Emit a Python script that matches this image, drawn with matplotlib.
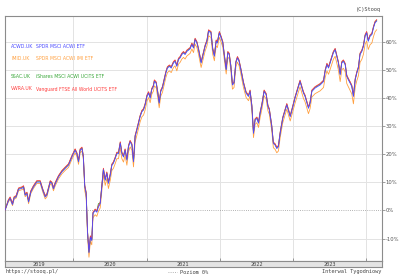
import matplotlib
matplotlib.use('Agg')
import matplotlib.pyplot as plt
import matplotlib.dates as mdates
from matplotlib.lines import Line2D
import pandas as pd

''' Data (weekly, % change from first week) '''
dates = ['2019-01-26','2019-02-12','2019-02-21','2019-03-05','2019-03-13','2019-03-23','2019-04-04','2019-04-21',
         '2019-04-29','2019-05-07','2019-05-16','2019-05-24','2019-06-04','2019-06-17','2019-07-04','2019-07-21',
         '2019-08-03','2019-08-15','2019-08-23','2019-09-09','2019-09-17','2019-09-25','2019-10-04','2019-10-20',
         '2019-11-06','2019-11-22','2019-12-09','2019-12-26',
         '2020-01-11','2020-01-20','2020-01-28','2020-02-05','2020-02-14','2020-02-21',
         '2020-02-28','2020-03-06','2020-03-13','2020-03-20','2020-03-27','2020-04-03','2020-04-09','2020-04-20',
         '2020-04-28','2020-05-06','2020-05-15',
         '2020-05-31','2020-06-09','2020-06-17','2020-06-25','2020-07-04','2020-07-12','2020-07-20','2020-07-29',
         '2020-08-06','2020-08-14','2020-08-23','2020-08-31','2020-09-08','2020-09-16','2020-09-25','2020-10-03',
         '2020-10-11','2020-10-20','2020-10-28','2020-11-05','2020-11-14','2020-11-22','2020-11-30','2020-12-09',
         '2020-12-17','2020-12-25',
         '2021-01-03','2021-01-11','2021-01-19','2021-01-27','2021-02-04','2021-02-09','2021-02-18','2021-02-26',
         '2021-03-05','2021-03-13','2021-03-21','2021-03-30','2021-04-07','2021-04-15','2021-04-25','2021-05-04',
         '2021-05-15','2021-05-23','2021-06-01','2021-06-09','2021-06-17','2021-06-26','2021-07-04','2021-07-12',
         '2021-07-21','2021-08-06','2021-08-15','2021-08-23','2021-08-31','2021-09-09','2021-09-17','2021-09-30',
         '2021-10-12','2021-10-20','2021-10-29','2021-11-06','2021-11-18','2021-11-27','2021-12-05','2021-12-14',
         '2021-12-20','2021-12-30',
         '2022-01-08','2022-01-16','2022-01-24','2022-02-02','2022-02-10','2022-02-17','2022-02-25','2022-03-05',
         '2022-03-13','2022-03-22','2022-03-30','2022-04-07','2022-04-16','2022-04-29','2022-05-12','2022-05-24',
         '2022-06-01','2022-06-10','2022-06-18','2022-06-26','2022-07-05','2022-07-13','2022-07-21','2022-07-30',
         '2022-08-10','2022-08-20','2022-08-29','2022-09-05','2022-09-17','2022-09-25','2022-10-04','2022-10-12',
         '2022-10-20','2022-10-29','2022-11-11','2022-12-01','2022-12-18','2022-12-30',
         '2023-01-11','2023-01-24','2023-02-05','2023-02-22','2023-03-02','2023-03-19','2023-03-27','2023-04-05',
         '2023-04-21','2023-05-16','2023-06-02','2023-06-10','2023-06-19','2023-06-27','2023-07-05','2023-07-21',
         '2023-07-30','2023-08-07','2023-08-15','2023-08-24','2023-09-01','2023-09-09','2023-09-18','2023-09-26',
         '2023-10-04','2023-10-13','2023-10-21','2023-10-29','2023-11-07','2023-11-15','2023-11-23','2023-12-01',
         '2023-12-10','2023-12-18','2023-12-26','2024-01-03','2024-01-11','2024-01-20','2024-01-29','2024-02-06',
         '2024-02-14','2024-02-22']

acwd = [0.0, 3.3, 4.3, 2.1, 4.4, 4.8, 7.5, 7.9, 8.3, 5.4, 6.0, 3.0, 6.5, 8.3, 10.1, 10.1, 7.1, 4.8, 5.4, 10.1,
        9.6, 7.7, 9.5, 11.9, 13.7, 14.9, 16.1, 19.0,
        21.4, 20.0, 17.3, 21.4, 22.0, 19.0,
        8.5, 6.0, -8.0, -15.0, -9.5, -10.7, -1.1, 0.0, -0.6, 1.2, 2.4,
        14.5, 10.7, 13.2, 9.6, 12.5, 16.0, 16.8, 18.5, 20.2, 20.2, 23.9, 20.2, 19.0, 21.4, 17.9, 22.6, 24.4, 23.2,
        17.3, 26.2, 28.6, 31.0, 33.3, 35.1, 35.7, 37.5,
        40.5, 41.7, 39.9, 42.9, 44.0, 45.9, 45.2, 41.7, 38.1, 42.3, 43.5, 46.4, 48.8, 50.6, 51.2, 50.6, 52.4, 53.0,
        51.2, 53.6, 54.2, 55.4, 56.0, 55.4, 56.5, 57.4, 59.0, 57.7, 60.7, 59.5, 57.1, 52.4, 56.0, 58.3, 60.1, 63.7,
        63.1, 57.1, 54.8, 60.1, 59.5, 63.1,
        61.3, 59.5, 54.8, 50.0, 56.0, 55.4, 51.2, 44.6, 45.2, 52.4, 54.2, 53.0, 50.0, 45.2, 41.7, 40.5, 42.3, 36.9,
        27.4, 32.1, 32.7, 31.0, 34.5, 37.5, 42.3, 41.1, 36.9, 35.7, 29.8, 23.8, 23.2, 22.0, 22.6, 27.4, 32.7, 37.5,
        33.3, 36.5,
        39.9, 43.0, 45.8, 41.7, 40.5, 36.3, 38.1, 42.3, 43.5, 44.6, 45.8, 49.4, 51.8, 50.6, 52.4, 56.0, 57.1, 54.8,
        52.4, 48.2, 52.4, 53.0, 51.8, 47.6, 46.4, 45.2, 44.0, 40.5, 46.4, 48.8, 50.6, 55.4, 56.5, 58.3, 61.9, 63.1,
        60.1, 61.9, 62.5, 64.9, 66.7, 67.3]

imid = [0.0, 3.0, 4.0, 1.7, 4.0, 4.4, 7.0, 7.4, 7.8, 4.9, 5.5, 2.4, 6.0, 7.8, 9.6, 9.6, 6.5, 4.1, 4.8, 9.5,
        9.0, 7.0, 8.8, 11.2, 13.0, 14.2, 15.3, 18.2,
        20.5, 19.1, 16.4, 20.5, 21.1, 18.1,
        7.0, 4.6, -9.6, -16.6, -11.0, -12.2, -2.6, -1.5, -2.1, -0.3, 0.9,
        12.7, 8.9, 11.4, 7.8, 10.7, 14.2, 15.0, 16.7, 18.4, 18.4, 22.1, 18.4, 17.2, 19.6, 16.1, 20.8, 22.6, 21.4,
        15.5, 24.4, 26.8, 29.2, 31.5, 33.3, 33.9, 35.7,
        38.9, 40.1, 38.3, 41.3, 42.4, 44.3, 43.6, 40.1, 36.5, 40.7, 41.9, 44.8, 47.2, 49.0, 49.6, 49.0, 50.8, 51.4,
        49.6, 52.0, 52.6, 53.8, 54.4, 53.8, 54.9, 55.8, 57.4, 56.1, 59.1, 57.9, 55.5, 50.8, 54.4, 56.7, 58.5, 62.1,
        61.5, 55.5, 53.2, 58.5, 57.9, 61.5,
        59.8, 58.0, 53.3, 48.5, 54.5, 53.9, 49.7, 43.1, 43.7, 50.9, 52.7, 51.5, 48.5, 43.7, 40.2, 39.0, 40.8, 35.4,
        25.9, 30.6, 31.2, 29.5, 33.0, 36.0, 40.8, 39.6, 35.4, 34.2, 28.3, 22.3, 21.7, 20.5, 21.1, 25.9, 31.2, 36.0,
        31.8, 35.0,
        38.1, 41.2, 44.0, 39.8, 38.6, 34.4, 36.2, 40.3, 41.5, 42.5, 43.7, 47.2, 49.6, 48.4, 50.1, 53.7, 54.8, 52.4,
        50.0, 45.8, 50.0, 50.5, 49.3, 45.1, 43.9, 42.6, 41.4, 37.9, 43.8, 46.1, 47.9, 52.6, 53.7, 55.5, 59.0, 60.2,
        57.2, 58.9, 59.5, 61.8, 63.5, 64.2]

ssac = [0.0, 3.6, 4.6, 2.4, 4.7, 5.1, 7.8, 8.2, 8.6, 5.7, 6.3, 3.3, 6.8, 8.6, 10.4, 10.4, 7.4, 5.1, 5.7, 10.4,
        9.9, 8.0, 9.8, 12.2, 14.0, 15.2, 16.4, 19.3,
        21.7, 20.3, 17.6, 21.7, 22.3, 19.3,
        8.8, 6.3, -7.7, -14.7, -9.2, -10.4, -0.8, 0.3, -0.3, 2.4, 2.7,
        14.8, 11.0, 13.5, 9.9, 12.8, 16.3, 17.1, 18.8, 20.5, 20.5, 24.2, 20.5, 19.3, 21.7, 18.2, 22.9, 24.7, 23.5,
        17.6, 26.5, 28.9, 31.3, 33.6, 35.4, 36.0, 37.8,
        40.8, 42.0, 40.2, 43.2, 44.3, 46.2, 45.5, 42.0, 38.4, 42.6, 43.8, 46.7, 49.1, 50.9, 51.5, 50.9, 52.7, 53.3,
        51.5, 53.9, 54.5, 55.7, 56.3, 55.7, 56.8, 57.7, 59.3, 58.0, 61.0, 59.8, 57.4, 52.7, 56.3, 58.6, 60.4, 64.0,
        63.4, 57.4, 55.1, 60.4, 59.8, 63.4,
        61.6, 59.8, 55.1, 50.3, 56.3, 55.7, 51.5, 44.9, 45.5, 52.7, 54.5, 53.3, 50.3, 45.5, 42.0, 40.8, 42.6, 37.2,
        27.7, 32.4, 33.0, 31.3, 34.8, 37.8, 42.6, 41.4, 37.2, 36.0, 30.1, 24.1, 23.5, 22.3, 22.9, 27.7, 33.0, 37.8,
        33.6, 36.8,
        40.2, 43.3, 46.1, 42.0, 40.8, 36.6, 38.4, 42.6, 43.8, 44.9, 46.1, 49.7, 52.1, 50.9, 52.7, 56.3, 57.4, 55.1,
        52.7, 48.5, 52.7, 53.3, 52.1, 47.9, 46.7, 45.5, 44.3, 40.8, 46.7, 49.1, 50.9, 55.7, 56.8, 58.6, 62.2, 63.4,
        60.4, 62.2, 62.8, 65.2, 67.0, 67.6]

vwra = [0.0, 3.8, 4.8, 2.6, 4.9, 5.3, 8.0, 8.4, 8.8, 5.9, 6.5, 3.5, 7.0, 8.8, 10.6, 10.6, 7.6, 5.3, 5.9, 10.6,
        10.1, 8.2, 10.0, 12.4, 14.2, 15.4, 16.6, 19.5,
        21.9, 20.5, 17.8, 21.9, 22.5, 19.5,
        9.0, 6.5, -7.5, -14.5, -9.0, -10.2, -0.6, 0.5, -0.1, 1.7, 2.9,
        15.0, 11.2, 13.7, 10.1, 13.0, 16.5, 17.3, 19.0, 20.7, 20.7, 24.4, 20.7, 19.5, 21.9, 18.4, 23.1, 24.9, 23.7,
        17.8, 26.7, 29.1, 31.5, 33.8, 35.6, 36.2, 38.0,
        41.0, 42.2, 40.4, 43.4, 44.5, 46.4, 45.7, 42.2, 38.6, 42.8, 44.0, 46.9, 49.3, 51.1, 51.7, 51.1, 52.9, 53.5,
        51.7, 54.1, 54.7, 55.9, 56.5, 55.9, 57.0, 57.9, 59.5, 58.2, 61.2, 60.0, 57.6, 52.9, 56.5, 58.8, 60.6, 64.2,
        63.6, 57.6, 55.3, 60.6, 60.0, 63.6,
        61.8, 60.0, 55.3, 50.5, 56.5, 55.9, 51.7, 45.1, 45.7, 52.9, 54.7, 53.5, 50.5, 45.7, 42.2, 41.0, 42.8, 37.4,
        27.9, 32.6, 33.2, 31.5, 35.0, 38.0, 42.8, 41.6, 37.4, 36.2, 30.3, 24.3, 23.7, 22.5, 23.1, 27.9, 33.2, 38.0,
        33.8, 37.0,
        40.4, 43.5, 46.3, 42.2, 41.0, 36.8, 38.6, 42.8, 44.0, 45.1, 46.3, 49.9, 52.3, 51.1, 52.9, 56.5, 57.6, 55.3,
        52.9, 48.7, 52.9, 53.5, 52.3, 48.1, 46.9, 45.7, 44.5, 41.0, 46.9, 49.3, 51.1, 55.9, 57.0, 58.8, 62.4, 63.6,
        60.6, 62.4, 63.0, 65.4, 67.2, 67.8]

tickers = ['ACWD.UK', 'IMID.UK', 'SSAC.UK', 'VWRA.UK']
names = ['SPDR MSCI ACWI ETF', 'SPDR MSCI ACWI IMI ETF', 'iShares MSCI ACWI UCITS ETF',
         'Vanguard FTSE All World UCITS ETF']
colors = ['#4a4aff', '#ffa040', '#3aa83a', '#ff3c3c']
yticks = [-10, 0, 10, 20, 30, 40, 50, 60]
years = [2019, 2020, 2021, 2022, 2023]

df = pd.DataFrame({'ACWD.UK': acwd, 'IMID.UK': imid, 'SSAC.UK': ssac, 'VWRA.UK': vwra},
                  index=pd.to_datetime(dates))

''' Figure '''
W, H = 400, 279
fig = plt.figure(figsize=(W/100, H/100), dpi=100)
fig.patch.set_facecolor('white')

left, right, top, bot = 4.7, 381.7, 16, 261
ax = fig.add_axes([left/W, 1-bot/H, (right-left)/W, (bot-top)/H])

x0 = pd.Timestamp('2019-01-25')
x1 = pd.Timestamp('2024-03-18')

# grid
for y in yticks:
    if y != 0:
        ax.axhline(y, color='#e3e3e3', lw=0.7, zorder=0)
for yr in years[1:] + [2024]:
    ax.axvline(pd.Timestamp(f'{yr}-01-01'), color='#e3e3e3', lw=0.7, zorder=0)
ax.axhline(0, color='#9a9a9a', lw=0.6, ls=(0, (1, 1.6)), zorder=1)

# lines (blue on top)
for t in ['IMID.UK', 'SSAC.UK', 'VWRA.UK', 'ACWD.UK']:
    ax.plot(df.index, df[t], color=colors[tickers.index(t)], lw=0.6, zorder=3)

ax.set_xlim(x0, x1)
ax.set_ylim(-17.95, 69.1)

for s in ax.spines.values():
    s.set_color('#8c8c8c')
    s.set_linewidth(0.8)

ax.yaxis.tick_right()
ax.set_yticks(yticks)
ax.set_yticklabels([f'{v}%' for v in yticks], fontsize=3.8, color='#555555', family='DejaVu Sans')
ax.tick_params(axis='y', direction='out', length=2, width=0.5, color='#777777', pad=1)
ax.set_xticks([pd.Timestamp(f'{yr}-01-01') for yr in years[1:] + [2024]])
ax.set_xticklabels([])
ax.tick_params(axis='x', direction='in', length=2, width=0.5, color='#777777')

# legend text
leg_y = [47, 59, 76, 89]
for i in range(4):
    fig.text(11/W, 1-leg_y[i]/H, tickers[i], color=colors[i], fontsize=3.3, va='center', ha='left')
    fig.text(36/W, 1-leg_y[i]/H, names[i], color=colors[i], fontsize=3.3, va='center', ha='left')

# date band
band = fig.add_axes([left/W, 1-267/H, (right-left)/W, 6/H])
band.set_facecolor('#e4e4e4')
band.set_xlim(x0, x1)
band.set_ylim(0, 1)
band.set_yticks([])
band.set_xticks([])
for s in band.spines.values():
    s.set_color('#8c8c8c')
    s.set_linewidth(0.8)
for yr in years:
    a = max(pd.Timestamp(f'{yr}-01-01'), x0)
    b = pd.Timestamp(f'{yr+1}-01-01')
    band.text(a + (b-a)/2, 0.5, str(yr), ha='center', va='center', fontsize=3.8, color='#444444',
              family='DejaVu Sans Mono')

# footer / header
mono = 'DejaVu Sans Mono'
fig.text(381/W, 1-10/H, '(C)Stooq', ha='right', va='center', fontsize=3.8, color='#444444', family=mono)
fig.text(5/W, 1-272/H, 'https://stooq.pl/', ha='left', va='center', fontsize=3.8, color='#444444', family=mono)
fig.text(381/W, 1-272/H, 'Interwal Tygodniowy', ha='right', va='center', fontsize=3.8, color='#444444',
         family=mono)
fig.add_artist(Line2D([168/W, 177/W], [1-272/H, 1-272/H], color='#9a9a9a', lw=0.6, ls=(0, (1, 1.6))))
fig.text(180/W, 1-272/H, 'Poziom 0%', ha='left', va='center', fontsize=3.8, color='#444444', family=mono)

plt.savefig('out.png', dpi=100)
